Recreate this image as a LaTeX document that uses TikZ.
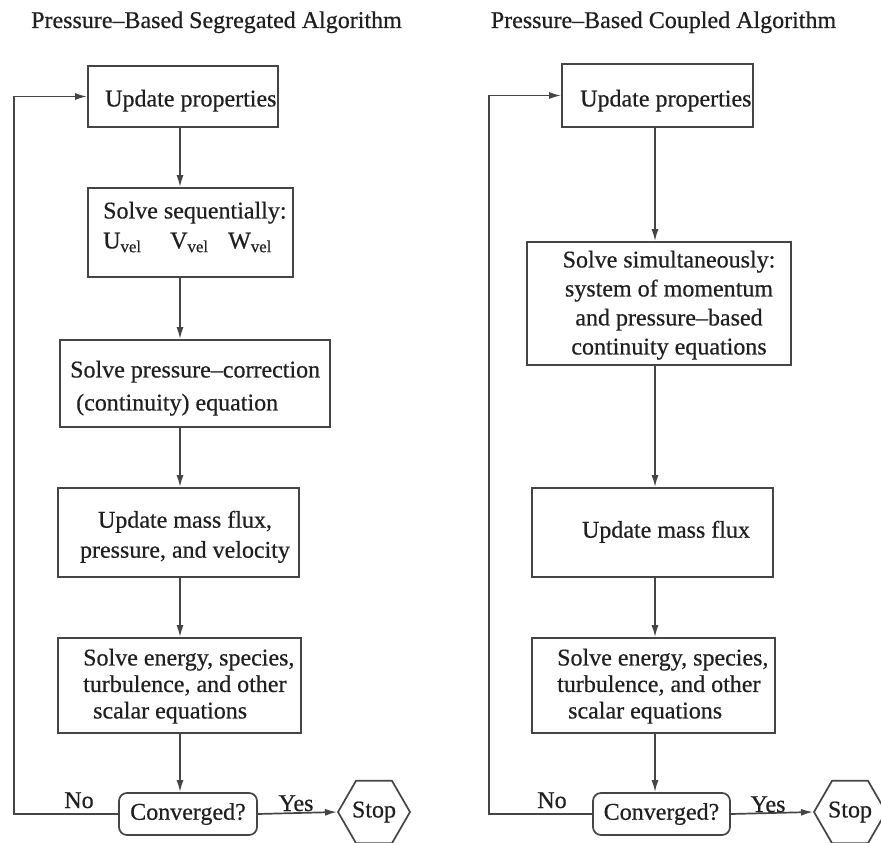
\documentclass[tikz,border=0pt]{standalone}
\usepackage{fontspec}
\setmainfont{Liberation Serif}[FakeBold=0.5]
\usetikzlibrary{arrows.meta,shapes.geometric}
\definecolor{linecol}{gray}{0.27}
\definecolor{txtcol}{gray}{0.12}
\begin{document}
\begin{tikzpicture}[x=1pt,y=-1pt,
  every node/.style={inner sep=0pt, text=txtcol, font=\fontsize{24}{28}\selectfont},
  box/.style={draw=linecol, line width=1.7pt, rectangle},
  decision/.style={draw=linecol, line width=1.7pt, rectangle, rounded corners=8pt},
  stopshape/.style={draw=linecol, line width=1.7pt, regular polygon, regular polygon sides=6, minimum size=72pt},
  arr/.style={draw=linecol, line width=1.7pt, -{Latex[length=12pt,width=7pt]}},
  title/.style={anchor=base},
  lbl/.style={anchor=base}
]
\useasboundingbox[fill=white] (0,0) rectangle (881,843);

% ---------- titles ----------
\node[title] (T1) at (216.5,28) {Pressure\textendash Based Segregated Algorithm};
\node[title] (T2) at (663.5,28) {Pressure\textendash Based Coupled Algorithm};

% ---------- left column ----------
\node[box, minimum width=190pt, minimum height=61pt] (L1) at (183,96.5) {};
\node[box, minimum width=205pt, minimum height=89pt] (L2) at (190.5,232.5) {};
\node[box, minimum width=270pt, minimum height=87pt] (L3) at (195,383.5) {};
\node[box, minimum width=241pt, minimum height=89pt] (L4) at (178.5,532.5) {};
\node[box, minimum width=243pt, minimum height=95pt] (L5) at (179.5,685.5) {};
\node[decision, minimum width=138pt, minimum height=42pt] (LC) at (188,814) {Converged?};
\node[stopshape] (LS) at (374,812) {Stop};

\node[anchor=north west] (L1t) at (105,89.6) {Update properties};
\node[anchor=north west, align=left, font=\fontsize{24}{30}\selectfont] (L2t) at (103,201.6)
  {Solve sequentially:\\
   \makebox[67pt][l]{U\textsubscript{vel}}\makebox[58pt][l]{V\textsubscript{vel}}W\textsubscript{vel}};
\node[anchor=north west, align=left, font=\fontsize{24}{33}\selectfont] (L3t) at (70,360.6)
  {Solve pressure\textendash correction\\\hspace*{6pt}(continuity) equation};
\node[anchor=north, align=center, font=\fontsize{24}{30}\selectfont] (L4t) at (185,510.6)
  {Update mass flux,\\pressure, and velocity};
\node[anchor=north west, align=left, font=\fontsize{24}{26.5}\selectfont] (L5t) at (83,648.6)
  {Solve energy, species,\\turbulence, and other\\\hspace*{10pt}scalar equations};

\coordinate (Lx) at (180,0);
\coordinate (Lloop) at (14,814);
\draw[arr] (L1.south -| Lx) -- (L2.north -| Lx);
\draw[arr] (L2.south -| Lx) -- (L3.north -| Lx);
\draw[arr] (L3.south -| Lx) -- (L4.north -| Lx);
\draw[arr] (L4.south -| Lx) -- (L5.north -| Lx);
\draw[arr] (L5.south -| Lx) -- (LC.north -| Lx);
\draw[arr] (LC.west) -- (Lloop) |- (L1.west);
\draw[arr] (LC.east) -- (LS.west);
\node[lbl] (LNo) at (79,808) {No};
\node[lbl] (LYes) at (296,811) {Yes};

% ---------- right column ----------
\node[box, minimum width=191pt, minimum height=63pt] (R1) at (657.5,95.5) {};
\node[box, minimum width=264pt, minimum height=123pt] (R2) at (659,303.5) {};
\node[box, minimum width=241pt, minimum height=89pt] (R3) at (652.5,532.5) {};
\node[box, minimum width=243pt, minimum height=95pt] (R5) at (653.5,685.5) {};
\node[decision, minimum width=137pt, minimum height=42pt] (RC) at (661.5,814) {Converged?};
\node[stopshape] (RS) at (850,812) {Stop};

\node[anchor=north west] (R1t) at (580,89.6) {Update properties};
\node[anchor=north, align=center, font=\fontsize{24}{29}\selectfont] (R2t) at (669,250.6)
  {Solve simultaneously:\\system of momentum\\and pressure\textendash based\\continuity equations};
\node[anchor=north] (R3t) at (666,520.6) {Update mass flux};
\node[anchor=north west, align=left, font=\fontsize{24}{26.5}\selectfont] (R5t) at (557,648.6)
  {Solve energy, species,\\turbulence, and other\\\hspace*{11pt}scalar equations};

\coordinate (Rx) at (655,0);
\coordinate (Rloop) at (489,814);
\draw[arr] (R1.south -| Rx) -- (R2.north -| Rx);
\draw[arr] (R2.south -| Rx) -- (R3.north -| Rx);
\draw[arr] (R3.south -| Rx) -- (R5.north -| Rx);
\draw[arr] (R5.south -| Rx) -- (RC.north -| Rx);
\draw[arr] (RC.west) -- (Rloop) |- (R1.west);
\draw[arr] (RC.east) -- (RS.west);
\node[lbl] (RNo) at (552,808) {No};
\node[lbl] (RYes) at (768,812) {Yes};
\end{tikzpicture}
\end{document}
